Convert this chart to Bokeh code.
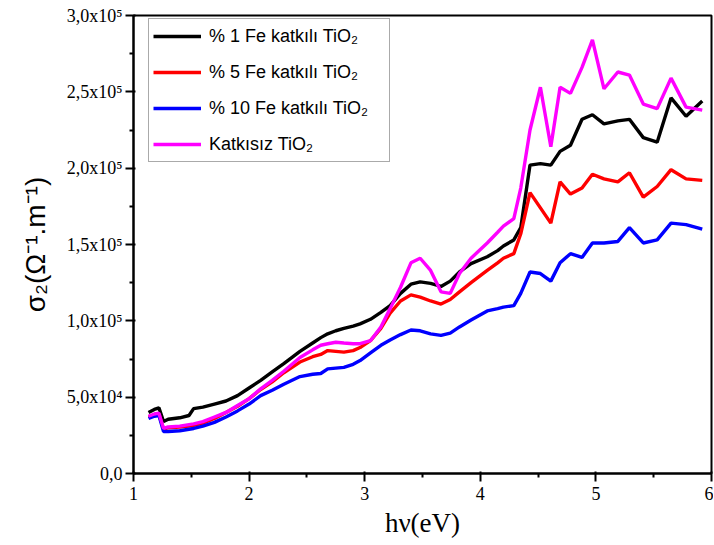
from bokeh.plotting import figure
from bokeh.models import Range1d, FixedTicker, CustomJSTickFormatter, Legend, LegendItem
from bokeh.embed import file_html
from bokeh.resources import INLINE

# photon energy (eV)
energy = [1.13, 1.18, 1.22, 1.26, 1.30, 1.40, 1.48, 1.52, 1.60, 1.70, 1.80, 1.90,
          2.00, 2.10, 2.20, 2.30, 2.44, 2.55, 2.62, 2.68, 2.75, 2.82, 2.90, 2.96,
          3.05, 3.14, 3.22, 3.31, 3.40, 3.48, 3.57, 3.66, 3.74, 3.82, 3.92, 4.06,
          4.15, 4.20, 4.29, 4.35, 4.43, 4.52, 4.61, 4.69, 4.78, 4.88, 4.97, 5.07,
          5.19, 5.29, 5.41, 5.53, 5.65, 5.78, 5.92]

# sigma_2 values in units of 1e5
fe1 = [0.40, 0.42, 0.43, 0.34, 0.355, 0.365, 0.38, 0.425, 0.435, 0.455, 0.475, 0.51,
       0.56, 0.61, 0.665, 0.72, 0.80, 0.855, 0.89, 0.915, 0.935, 0.95, 0.965, 0.98,
       1.01, 1.055, 1.10, 1.18, 1.24, 1.255, 1.245, 1.225, 1.26, 1.32, 1.375, 1.42,
       1.46, 1.49, 1.53, 1.61, 2.02, 2.03, 2.02, 2.11, 2.15, 2.32, 2.35, 2.29,
       2.31, 2.32, 2.20, 2.17, 2.46, 2.34, 2.44]
fe5 = [0.37, 0.385, 0.39, 0.29, 0.30, 0.305, 0.31, 0.315, 0.33, 0.36, 0.40, 0.44,
       0.49, 0.55, 0.60, 0.66, 0.73, 0.765, 0.78, 0.805, 0.80, 0.795, 0.805, 0.825,
       0.87, 0.95, 1.05, 1.13, 1.17, 1.155, 1.13, 1.11, 1.14, 1.19, 1.25, 1.33,
       1.38, 1.41, 1.44, 1.57, 1.84, 1.74, 1.64, 1.91, 1.83, 1.87, 1.96, 1.93,
       1.91, 1.97, 1.81, 1.88, 1.99, 1.93, 1.92]
fe10 = [0.36, 0.375, 0.38, 0.275, 0.275, 0.28, 0.29, 0.295, 0.31, 0.335, 0.37, 0.41,
        0.455, 0.51, 0.545, 0.585, 0.635, 0.65, 0.655, 0.685, 0.69, 0.695, 0.715, 0.74,
        0.79, 0.84, 0.875, 0.91, 0.94, 0.935, 0.915, 0.905, 0.92, 0.96, 1.005, 1.065,
        1.08, 1.09, 1.10, 1.18, 1.32, 1.31, 1.26, 1.38, 1.44, 1.415, 1.51, 1.51,
        1.52, 1.61, 1.51, 1.53, 1.64, 1.63, 1.60]
undoped = [0.375, 0.39, 0.395, 0.295, 0.305, 0.31, 0.32, 0.325, 0.34, 0.37, 0.40, 0.445,
           0.49, 0.555, 0.61, 0.67, 0.76, 0.81, 0.84, 0.85, 0.86, 0.855, 0.85, 0.85,
           0.87, 0.96, 1.08, 1.22, 1.38, 1.41, 1.33, 1.19, 1.18, 1.31, 1.41, 1.51,
           1.58, 1.62, 1.67, 1.87, 2.25, 2.53, 2.14, 2.53, 2.49, 2.66, 2.84, 2.52,
           2.63, 2.61, 2.42, 2.39, 2.59, 2.40, 2.38]

labels = ["% 1 Fe katkılı TiO₂", "% 5 Fe katkılı TiO₂", "% 10 Fe katkılı TiO₂", "Katkısız TiO₂"]
colors = ["#000000", "#ff0000", "#0000ff", "#ff00ff"]
series = [fe1, fe5, fe10, undoped]

x_ticks = [1, 2, 3, 4, 5, 6]
y_ticks = [0, 50000, 100000, 150000, 200000, 250000, 300000]

p = figure(width=713, height=542, output_backend="svg", toolbar_location=None,
           x_range=Range1d(1, 6), y_range=Range1d(0, 300000),
           min_border_left=133, min_border_top=15, min_border_right=2, min_border_bottom=69)
p.background_fill_color = "white"
p.border_fill_color = "white"
p.grid.visible = False
p.outline_line_color = "black"
p.outline_line_width = 2

items = []
for lab, col, ys in zip(labels, colors, series):
    r = p.line(energy, [v * 1e5 for v in ys], line_color=col, line_width=3.4)
    items.append(LegendItem(label=lab, renderers=[r]))

legend = Legend(items=items, location=(15, 311))
legend.label_text_font = "Liberation Sans"
legend.label_text_font_size = "18px"
legend.label_text_color = "black"
legend.glyph_width = 48
legend.glyph_height = 26
legend.label_height = 26
legend.label_width = 176
legend.spacing = 10
legend.padding = 4
legend.label_standoff = 8
legend.border_line_color = "#555555"
legend.border_line_width = 1
legend.background_fill_alpha = 1
p.add_layout(legend)

p.xaxis.ticker = FixedTicker(ticks=x_ticks, minor_ticks=[1.5, 2.5, 3.5, 4.5, 5.5])
p.yaxis.ticker = FixedTicker(ticks=y_ticks,
                             minor_ticks=[25000, 75000, 125000, 175000, 225000, 275000])
p.yaxis.formatter = CustomJSTickFormatter(code="""
const s = ["\u2070","\u00b9","\u00b2","\u00b3","\u2074","\u2075","\u2076","\u2077","\u2078","\u2079"];
if (tick == 0) { return "0,0"; }
const e = Math.floor(Math.log10(Math.abs(tick)) + 1e-9);
const m = tick / Math.pow(10, e);
return m.toFixed(1).replace(".", ",") + "x10" + s[e];
""")

for ax in (p.xaxis[0], p.yaxis[0]):
    ax.axis_line_width = 2
    ax.major_tick_line_width = 2
    ax.minor_tick_line_width = 2
    ax.major_tick_out = 8
    ax.major_tick_in = 2
    ax.minor_tick_out = 4
    ax.minor_tick_in = 0
    ax.major_label_text_font = "Liberation Serif"
    ax.major_label_text_font_size = "18px"
    ax.major_label_text_color = "black"
    ax.axis_label_text_font_style = "normal"
    ax.axis_label_text_color = "black"

p.xaxis.axis_label = "hν(eV)"
p.xaxis.axis_label_text_font = "Liberation Serif"
p.xaxis.axis_label_text_font_size = "27px"
p.xaxis.axis_label_standoff = 5
p.xaxis.major_label_standoff = 5

p.yaxis.axis_label = "σ₂(Ω⁻¹.m⁻¹)"
p.yaxis.axis_label_text_font = "Liberation Sans"
p.yaxis.axis_label_text_font_size = "28px"
p.yaxis.axis_label_standoff = 13
p.yaxis.major_label_standoff = 3

open("out.html", "w").write(file_html(p, INLINE))
